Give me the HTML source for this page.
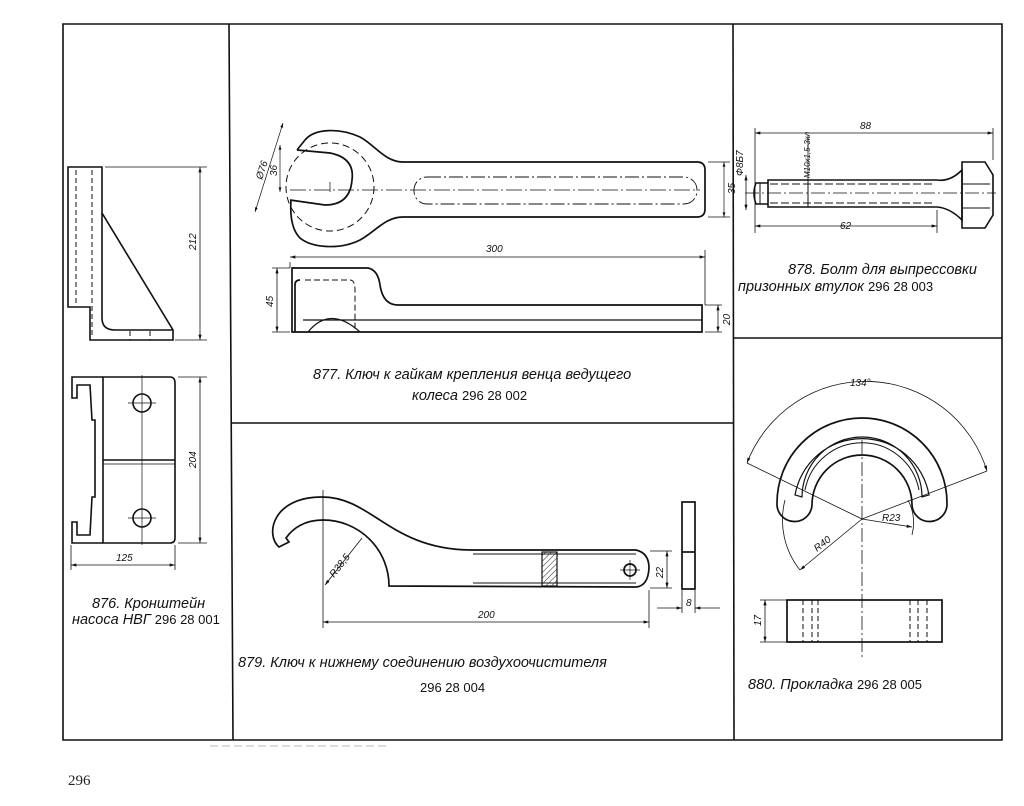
<!DOCTYPE html>
<html><head><meta charset="utf-8"><style>
html,body{margin:0;padding:0;background:#fff;}
svg{display:block;}
.c{font-family:"Liberation Sans",sans-serif;font-style:italic;font-size:14.5px;fill:#111;}
.n{font-family:"Liberation Sans",sans-serif;font-size:13px;fill:#111;}
.d{font-family:"Liberation Sans",sans-serif;font-style:italic;font-size:10px;fill:#111;}
</style></head><body>
<svg width="1024" height="806" viewBox="0 0 1024 806" xmlns="http://www.w3.org/2000/svg">
<defs>
<marker id="a" viewBox="0 0 10 6" refX="10" refY="3" markerWidth="8" markerHeight="4" orient="auto-start-reverse"><path d="M0,0 L10,3 L0,6 Z" fill="#111"/></marker>
<pattern id="h" width="4" height="4" patternUnits="userSpaceOnUse" patternTransform="rotate(45)"><line x1="0" y1="0" x2="0" y2="4" stroke="#222" stroke-width="1"/></pattern>
</defs>
<g fill="none" stroke="#111" stroke-width="1.6">
<path d="M63,24 L1002,24 L1002,740 L63,740 Z"/>
<line x1="229" y1="24" x2="233" y2="740"/>
<line x1="733" y1="24" x2="734" y2="740"/>
<line x1="231" y1="423" x2="733" y2="423"/>
<line x1="733" y1="338" x2="1002" y2="338"/>
</g>

<!-- 876 -->
<g fill="none" stroke="#111" stroke-width="1.6">
<path d="M68,167 L102,167 L102,213 L173,330 L173,340 L90,340 L90,307 L68,307 Z"/>
<path d="M102,213 L102,318 Q102,330 115,330 L173,330"/>
<g stroke-dasharray="5,3" stroke-width="1"><line x1="76" y1="170" x2="76" y2="305"/><line x1="92" y1="170" x2="92" y2="338"/><line x1="130" y1="331" x2="130" y2="340"/><line x1="150" y1="331" x2="150" y2="340"/></g>
<g stroke-width="0.8"><line x1="105" y1="167" x2="207" y2="167"/><line x1="175" y1="340" x2="207" y2="340"/><line x1="200" y1="167" x2="200" y2="340" marker-start="url(#a)" marker-end="url(#a)"/></g>
<path d="M103,377 L170,377 Q175,377 175,383 L175,538 Q175,543 170,543 L103,543 Z"/>
<line x1="103" y1="460" x2="175" y2="460"/><line x1="103" y1="464" x2="175" y2="464" stroke-width="0.8"/>
<path d="M103,377 L72,377 L72,398 L77,398 L77,385 L90,385 L92,420 L95,420 L95,497 L92,497 L90,535 L77,535 L77,522 L72,522 L72,543 L103,543"/>
<circle cx="142" cy="403" r="9"/><circle cx="142" cy="518" r="9"/>
<g stroke-width="0.7"><line x1="142" y1="375" x2="142" y2="545"/><line x1="128" y1="403" x2="156" y2="403"/><line x1="128" y1="518" x2="156" y2="518"/></g>
<g stroke-width="0.8"><line x1="178" y1="377" x2="207" y2="377"/><line x1="178" y1="543" x2="207" y2="543"/><line x1="200" y1="377" x2="200" y2="543" marker-start="url(#a)" marker-end="url(#a)"/>
<line x1="71" y1="545" x2="71" y2="570"/><line x1="175" y1="545" x2="175" y2="570"/><line x1="71" y1="565" x2="175" y2="565" marker-start="url(#a)" marker-end="url(#a)"/></g>
</g>
<text class="d" transform="translate(196,250) rotate(-90)">212</text>
<text class="d" transform="translate(196,468) rotate(-90)">204</text>
<text class="d" x="116" y="561">125</text>
<text class="c" x="92" y="608">876. Кронштейн</text>
<text class="c" x="72" y="624">насоса  НВГ <tspan class="n" style="font-style:normal">296 28 001</tspan></text>

<!-- 877 -->
<g fill="none" stroke="#111" stroke-width="1.7">
<path d="M403,162 C385,162 375,145 360,137 C340,128 315,128 305,140 L297,150"/>
<path d="M403,217 C385,217 375,232 360,240 C340,250 312,248 300,238 C292,230 290,215 291,200"/>
<path d="M297,150 L330,153 Q355,158 352,180 Q350,205 325,205 L290,200"/>
<path d="M403,162 L697,162 Q705,162 705,170 L705,209 Q705,217 697,217 L403,217"/>
<circle cx="330" cy="187" r="44" stroke-dasharray="7,4" stroke-width="1"/>
<rect x="414" y="177" width="283" height="27" rx="13" stroke-dasharray="14,3,2,3" stroke-width="0.9"/>
<g stroke-width="0.7"><line x1="290" y1="190" x2="700" y2="190" stroke-dasharray="16,3,2,3"/><line x1="330" y1="182" x2="330" y2="192"/>
<line x1="255" y1="212" x2="283" y2="123" marker-start="url(#a)" marker-end="url(#a)"/><line x1="280" y1="145" x2="280" y2="192" marker-start="url(#a)" marker-end="url(#a)"/>
<line x1="708" y1="162" x2="730" y2="162"/><line x1="708" y1="217" x2="730" y2="217"/><line x1="724" y1="162" x2="724" y2="217" marker-start="url(#a)" marker-end="url(#a)"/></g>
<path d="M292,268 L368,268 Q378,270 380,285 Q383,305 398,305 L702,305 L702,332 L292,332 Z"/>
<line x1="303" y1="320" x2="702" y2="320" stroke-width="1.2"/>
<path d="M295,332 L295,285 Q295,280 300,280"/>
<path d="M305,280 L350,280 Q355,280 355,290 L355,332" stroke-dasharray="6,3" stroke-width="1"/>
<path d="M308,332 Q330,305 360,332" stroke-width="1.2"/>
<g stroke-width="0.8"><line x1="290" y1="262" x2="290" y2="268"/><line x1="705" y1="250" x2="705" y2="305"/><line x1="290" y1="257" x2="705" y2="257" marker-start="url(#a)" marker-end="url(#a)"/>
<line x1="272" y1="268" x2="290" y2="268"/><line x1="272" y1="332" x2="290" y2="332"/><line x1="277" y1="268" x2="277" y2="332" marker-start="url(#a)" marker-end="url(#a)"/>
<line x1="705" y1="305" x2="722" y2="305"/><line x1="705" y1="332" x2="722" y2="332"/><line x1="718" y1="305" x2="718" y2="332" marker-start="url(#a)" marker-end="url(#a)"/></g>
</g>
<text class="d" transform="translate(262,180) rotate(-72)">Ø76</text>
<text class="d" transform="translate(277,176) rotate(-90)">36</text>
<text class="d" transform="translate(735,194) rotate(-90)">35</text>
<text class="d" x="486" y="252">300</text>
<text class="d" transform="translate(273,307) rotate(-90)">45</text>
<text class="d" transform="translate(730,325) rotate(-90)">20</text>
<text class="c" x="313" y="379">877. Ключ к гайкам крепления венца ведущего</text>
<text class="c" x="412" y="400">колеса  <tspan class="n" style="font-style:normal">296 28 002</tspan></text>

<!-- 879 -->
<g fill="none" stroke="#111" stroke-width="1.7">
<path d="M389,586 A66,66 0 0 0 323,520 C305,520 293,528 286,538 L289,542 L279,547 C265,535 272,497 322,497 C372,497 390,549 470,550 L636,550 Q649,553 649,568 Q648,586 636,587 Z"/>
<line x1="473" y1="554" x2="636" y2="554" stroke-width="1.1"/><line x1="473" y1="583" x2="636" y2="583" stroke-width="1.1"/>
<rect x="542" y="552" width="15" height="34" fill="url(#h)" stroke-width="1.2"/>
<circle cx="630" cy="570" r="6"/>
<g stroke-width="0.7"><line x1="620" y1="570" x2="640" y2="570"/><line x1="630" y1="560" x2="630" y2="580"/></g>
<rect x="682" y="502" width="13" height="87"/><line x1="682" y1="552" x2="695" y2="552"/>
<g stroke-width="0.8"><line x1="323" y1="490" x2="323" y2="628"/><line x1="325" y1="585" x2="362" y2="538" marker-start="url(#a)"/>
<line x1="649" y1="590" x2="649" y2="628"/><line x1="323" y1="622" x2="649" y2="622" marker-start="url(#a)" marker-end="url(#a)"/>
<line x1="650" y1="551" x2="672" y2="551"/><line x1="650" y1="588" x2="672" y2="588"/><line x1="667" y1="551" x2="667" y2="588" marker-start="url(#a)" marker-end="url(#a)"/>
<line x1="682" y1="590" x2="682" y2="613"/><line x1="695" y1="590" x2="695" y2="613"/><line x1="657" y1="608" x2="682" y2="608" marker-end="url(#a)"/><line x1="720" y1="608" x2="695" y2="608" marker-end="url(#a)"/></g>
</g>
<text class="d" transform="translate(334,578) rotate(-52)">R38,5</text>
<text class="d" x="478" y="618">200</text>
<text class="d" transform="translate(663,578) rotate(-90)">22</text>
<text class="d" x="686" y="606">8</text>
<text class="c" x="238" y="667">879. Ключ к нижнему соединению воздухоочистителя</text>
<text class="n" x="420" y="692">296 28 004</text>

<!-- 878 -->
<g fill="none" stroke="#111" stroke-width="1.6">
<path d="M768,180 L937,180 Q950,182 962,170 L962,220 Q950,208 937,207 L768,207 Z"/>
<path d="M768,183 L756,183 Q752,193 756,204 L768,204"/>
<line x1="760" y1="183" x2="760" y2="204" stroke-width="1"/>
<path d="M962,162 L985,162 L993,175 L993,215 L985,228 L962,228 Z"/>
<path d="M962,184 L990,184 M962,208 L990,208" stroke-width="1"/>
<g stroke-dasharray="8,3" stroke-width="1"><line x1="770" y1="184" x2="935" y2="184"/><line x1="770" y1="203" x2="935" y2="203"/></g>
<line x1="808" y1="180" x2="808" y2="207" stroke-width="1"/>
<g stroke-width="0.8"><line x1="745" y1="193" x2="996" y2="193" stroke-dasharray="14,3,2,3"/>
<line x1="755" y1="128" x2="755" y2="233"/><line x1="993" y1="128" x2="993" y2="160"/><line x1="937" y1="210" x2="937" y2="233"/>
<line x1="755" y1="133" x2="993" y2="133" marker-start="url(#a)" marker-end="url(#a)"/>
<line x1="755" y1="226" x2="937" y2="226" marker-start="url(#a)" marker-end="url(#a)"/>
<line x1="808" y1="135" x2="808" y2="180"/>
<line x1="746" y1="175" x2="746" y2="210" marker-start="url(#a)" marker-end="url(#a)"/></g>
</g>
<text class="d" x="860" y="129">88</text>
<text class="d" x="840" y="229">62</text>
<text class="d" style="font-size:8px" transform="translate(810,178) rotate(-90)">М10х1,5-3кл</text>
<text class="d" transform="translate(743,176) rotate(-90)">Ф8Б7</text>
<text class="c" x="788" y="274">878. Болт для выпрессовки</text>
<text class="c" x="738" y="291">призонных втулок  <tspan class="n" style="font-style:normal">296 28 003</tspan></text>

<!-- 880 -->
<g fill="none" stroke="#111" stroke-width="1.7">
<path d="M777,503 A85,85 0 0 1 947,503 A17,17 0 0 1 912,505 A50,50 0 0 0 812,505 A17,17 0 0 1 777,503 Z"/>
<path d="M795,495 A68,68 0 0 1 929,495 L922,497 A60,60 0 0 0 802,497 Z" stroke-width="1.2"/>
<path d="M805,490 A58,58 0 0 1 919,490" stroke-width="1"/>
<g stroke-width="0.8"><path d="M747,463 A127,127 0 0 1 987,471" marker-start="url(#a)" marker-end="url(#a)"/>
<line x1="747" y1="463" x2="862" y2="519"/><line x1="987" y1="471" x2="862" y2="519"/>
<line x1="862" y1="440" x2="862" y2="660" stroke-dasharray="14,3,2,3"/>
<path d="M785,500 A80,80 0 0 0 800,570"/><line x1="862" y1="519" x2="800" y2="570" marker-end="url(#a)"/>
<path d="M908,500 A50,50 0 0 1 912,535"/><line x1="862" y1="519" x2="912" y2="527" marker-end="url(#a)"/></g>
<rect x="787" y="600" width="155" height="42"/>
<g stroke-dasharray="5,3" stroke-width="1"><line x1="803" y1="600" x2="803" y2="642"/><line x1="812" y1="600" x2="812" y2="642"/><line x1="818" y1="600" x2="818" y2="642"/><line x1="910" y1="600" x2="910" y2="642"/><line x1="918" y1="600" x2="918" y2="642"/><line x1="927" y1="600" x2="927" y2="642"/></g>
<g stroke-width="0.8"><line x1="760" y1="600" x2="787" y2="600"/><line x1="760" y1="642" x2="787" y2="642"/><line x1="765" y1="600" x2="765" y2="642" marker-start="url(#a)" marker-end="url(#a)"/></g>
</g>
<text class="d" x="850" y="386">134°</text>
<text class="d" x="882" y="521">R23</text>
<text class="d" transform="translate(817,552) rotate(-38)">R40</text>
<text class="d" transform="translate(761,626) rotate(-90)">17</text>
<text class="c" x="748" y="689">880. Прокладка  <tspan class="n" style="font-style:normal">296 28 005</tspan></text>

<line x1="210" y1="746" x2="390" y2="746" stroke="#bbb" stroke-width="1" stroke-dasharray="8,4"/>
<text x="68" y="785" style="font-family:'Liberation Serif',serif;font-size:15px;fill:#222">296</text>
</svg>
</body></html>
